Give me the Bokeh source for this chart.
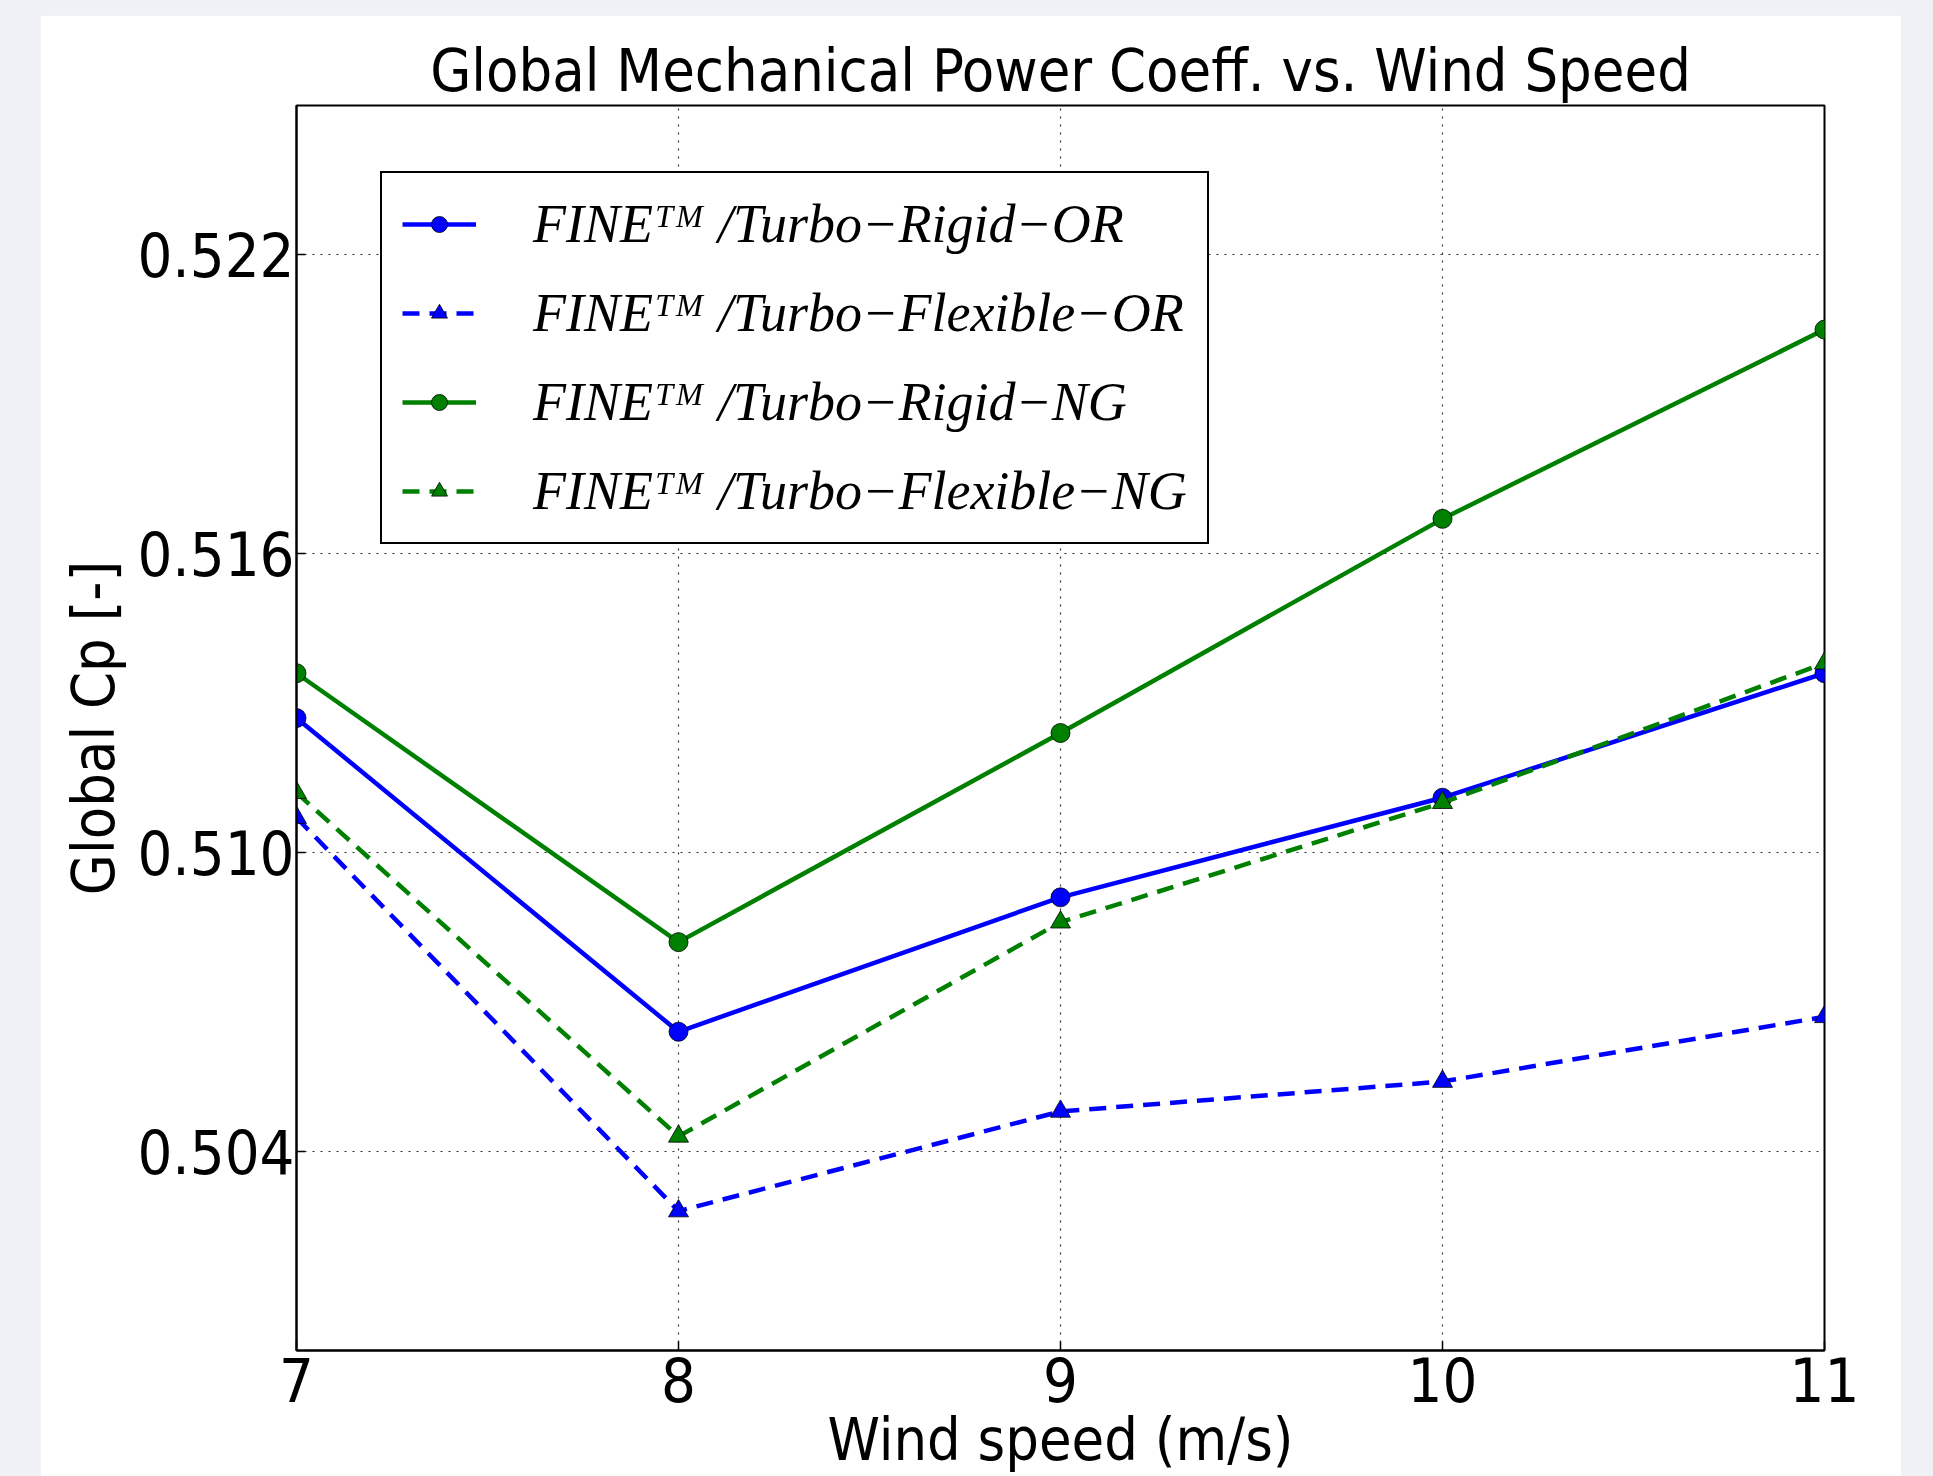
import re
from bokeh.plotting import figure
from bokeh.models import FixedTicker, Legend, LegendItem, Range1d
from bokeh.embed import file_html
from bokeh.resources import INLINE

# ---- data ----
wind_speed = [7, 8, 9, 10, 11]
cp_rigid_or = [0.5127, 0.5064, 0.5091, 0.5111, 0.5136]
cp_flex_or = [0.5107, 0.5028, 0.5048, 0.5054, 0.5067]
cp_rigid_ng = [0.5136, 0.5082, 0.5124, 0.5167, 0.5205]
cp_flex_ng = [0.5112, 0.5043, 0.5086, 0.5110, 0.5138]
x_ticks = [7, 8, 9, 10, 11]
y_ticks = [0.504, 0.510, 0.516, 0.522]
y_tick_labels = {0.504: "0.504", 0.510: "0.510", 0.516: "0.516", 0.522: "0.522"}
labels = ["FINE\u1d40\u1d39 /Turbo\u2212Rigid\u2212OR",
          "FINE\u1d40\u1d39 /Turbo\u2212Flexible\u2212OR",
          "FINE\u1d40\u1d39 /Turbo\u2212Rigid\u2212NG",
          "FINE\u1d40\u1d39 /Turbo\u2212Flexible\u2212NG"]

FONT = "DejaVu Sans Condensed"

p = figure(width=1861, height=1461, output_backend="svg", toolbar_location=None,
           x_range=Range1d(7, 11), y_range=Range1d(0.500, 0.525),
           min_border_left=256, min_border_right=77, min_border_top=90,
           min_border_bottom=124, title="Global Mechanical Power Coeff. vs. Wind Speed")
p.background_fill_color = "white"
p.border_fill_color = "white"
p.outline_line_color = "black"
p.outline_line_width = 2

p.title.align = "center"
p.title.text_font = FONT
p.title.text_font_size = "59px"
p.title.text_font_style = "normal"
p.title.text_color = "black"
p.title.standoff = 2

for ax in (p.xaxis[0], p.yaxis[0]):
    ax.axis_label_text_font = FONT
    ax.axis_label_text_font_size = "59px"
    ax.axis_label_text_font_style = "normal"
    ax.axis_label_text_color = "black"
    ax.major_label_text_font = FONT
    ax.major_label_text_font_size = "61px"
    ax.major_label_text_color = "black"
    ax.major_tick_in = 9
    ax.major_tick_out = 0
    ax.minor_tick_line_color = None
    ax.axis_line_color = "black"
    ax.axis_line_width = 2
    ax.major_tick_line_color = "black"
    ax.major_tick_line_width = 1.5

p.xaxis.ticker = FixedTicker(ticks=x_ticks)
p.yaxis.ticker = FixedTicker(ticks=y_ticks)
p.yaxis.major_label_overrides = y_tick_labels
p.xaxis.axis_label = "Wind speed (m/s)"
p.yaxis.axis_label = "Global Cp [-]"
p.xaxis.major_label_standoff = 6
p.xaxis.axis_label_standoff = 0
p.yaxis.major_label_standoff = 2
p.yaxis.axis_label_standoff = 6

p.xgrid.ticker = FixedTicker(ticks=x_ticks)
p.ygrid.ticker = FixedTicker(ticks=y_ticks)
for g in (p.xgrid[0], p.ygrid[0]):
    g.grid_line_color = "black"
    g.grid_line_dash = "2 6"
    g.grid_line_width = 1.2
    g.grid_line_alpha = 0.8

BLUE = "#0000ff"
GREEN = "#008000"
items = []
series = [
    (cp_rigid_or, BLUE, "solid", "circle", 19),
    (cp_flex_or, BLUE, "17 10", "triangle", 20),
    (cp_rigid_ng, GREEN, "solid", "circle", 19),
    (cp_flex_ng, GREEN, "17 10", "triangle", 20),
]
for (ys, col, dash, marker, size), lab in zip(series, labels):
    r1 = p.line(wind_speed, ys, line_color=col, line_width=4.5, line_dash=dash)
    r2 = p.scatter(wind_speed, ys, marker=marker, size=size, fill_color=col,
                   line_color="black", line_width=0.8)
    items.append(LegendItem(label=lab, renderers=[r1, r2]))

legend = Legend(items=items, location=(84, 806))
legend.label_text_font = "Liberation Serif"
legend.label_text_font_style = "italic"
legend.label_text_font_size = "54px"
legend.label_text_color = "black"
legend.border_line_color = "black"
legend.border_line_width = 2
legend.border_line_alpha = 1
legend.background_fill_color = "white"
legend.background_fill_alpha = 1
legend.glyph_width = 74
legend.glyph_height = 40
legend.label_height = 40
legend.spacing = 27
legend.padding = 20
legend.margin = 0
legend.label_standoff = 57
p.add_layout(legend, "center")

html = file_html(p, INLINE)
html = re.sub(r"<body[^>]*>",
              '<body style="background-color:#eff1f6 !important; margin:0; padding:15px 0 0 40px;">',
              html, count=1)
html = html.replace("</head>",
                    "<style>html, body { background-color:#eff1f6 !important; }"
                    " body { padding:15px 0 0 40px !important; margin:0 !important; }</style></head>", 1)
open("out.html", "w").write(html)
